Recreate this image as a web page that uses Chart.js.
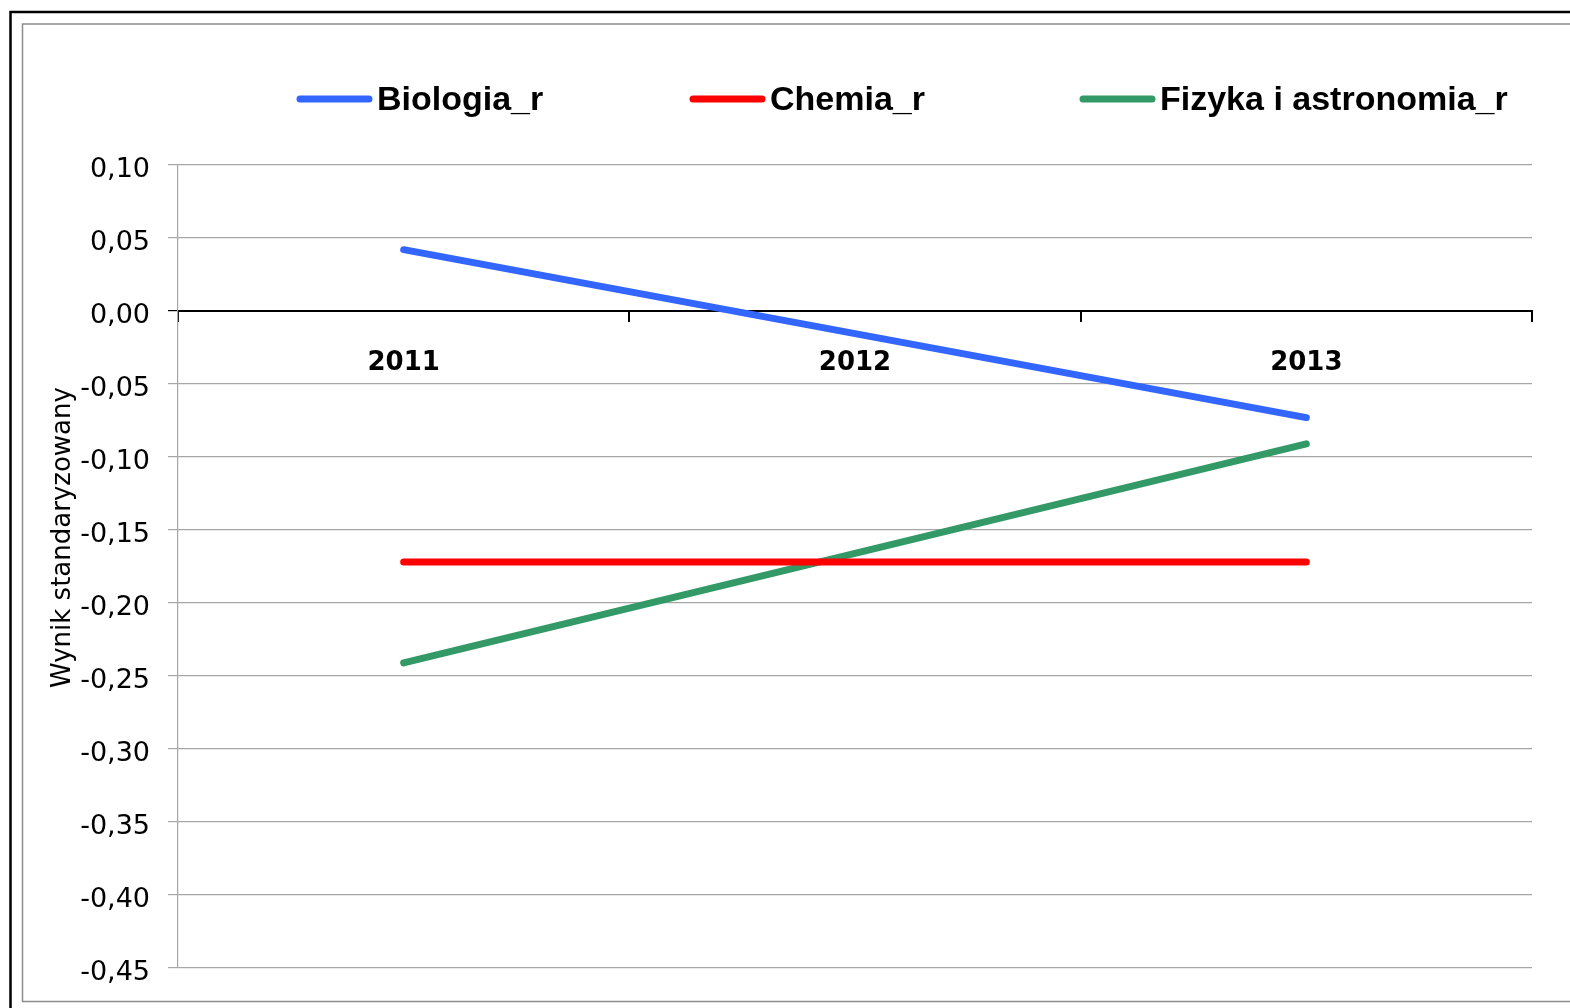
<!DOCTYPE html>
<html>
<head>
<meta charset="utf-8">
<script src="https://cdn.jsdelivr.net/npm/chart.js@4/dist/chart.umd.min.js"></script>
<style>
  html, body { margin: 0; padding: 0; background: #fff; }
  #wyniki { display: block; }
</style>
</head>
<body>
<canvas id="wyniki" width="1570" height="1008"></canvas>
<script>
// lata egzaminu
var years = ['2011', '2012', '2013'];
// wyniki standaryzowane (brak wartosci dla 2012 - linia prosta)
var biologia = [0.042, null, -0.073];
var chemia = [-0.172, null, -0.172];
var fizyka = [-0.241, null, -0.091];

var yMin = -0.45;
var yMax = 0.10;
var yStep = 0.05;

// ramka wykresu (jak w Excelu)
var framePlugin = {
    id: 'frame',
    beforeDraw: function (chart) {
        var ctx = chart.ctx;
        ctx.save();
        ctx.fillStyle = '#fff';
        ctx.fillRect(0, 0, chart.width, chart.height);
        ctx.strokeStyle = '#000';
        ctx.lineWidth = 2.5;
        ctx.strokeRect(10.5, 12, chart.width + 10, chart.height + 10);
        ctx.strokeStyle = '#8c8c8c';
        ctx.lineWidth = 1.5;
        ctx.strokeRect(22.5, 24, chart.width + 10, 977.5);
        ctx.restore();
    }
};

// legenda u gory
var legendX = [297, 690, 1080];
var legendPlugin = {
    id: 'lineLegend',
    afterDraw: function (chart) {
        var ctx = chart.ctx;
        ctx.save();
        ctx.font = 'bold 34px "Liberation Sans", Arial, sans-serif';
        ctx.textBaseline = 'alphabetic';
        chart.data.datasets.forEach(function (ds, i) {
            var x = legendX[i];
            ctx.strokeStyle = ds.borderColor;
            ctx.lineWidth = 7;
            ctx.lineCap = 'round';
            ctx.beginPath();
            ctx.moveTo(x + 3, 99);
            ctx.lineTo(x + 72, 99);
            ctx.stroke();
            ctx.fillStyle = '#000';
            ctx.fillText(ds.label, x + 80, 110);
        });
        ctx.restore();
    }
};

Chart.defaults.font.family = '"DejaVu Sans", Verdana, sans-serif';
Chart.defaults.color = '#000';

var chart = new Chart(document.getElementById('wyniki'), {
    type: 'line',
    data: {
        labels: years,
        datasets: [
            {
                label: 'Biologia_r',
                data: biologia,
                borderColor: '#3366FF',
                backgroundColor: '#3366FF',
            },
            {
                label: 'Chemia_r',
                data: chemia,
                borderColor: '#FF0000',
                backgroundColor: '#FF0000',
            },
            {
                label: 'Fizyka i astronomia_r',
                data: fizyka,
                borderColor: '#339966',
                backgroundColor: '#339966',
            }
        ]
    },
    options: {
        responsive: false,
        animation: false,
        spanGaps: true,
        elements: {
            line: { borderWidth: 7, tension: 0, borderCapStyle: 'round' },
            point: { radius: 0, hoverRadius: 0 }
        },
        layout: {
            padding: { top: 165, left: 30, right: 38, bottom: 40 }
        },
        scales: {
            x: {
                type: 'category',
                position: { y: 0 },
                offset: true,
                grid: {
                    offset: true,
                    drawOnChartArea: false,
                    drawTicks: true,
                    tickLength: 10,
                    color: '#000',
                    lineWidth: 2,
                },
                border: { color: '#000', width: 2 },
                ticks: {
                    padding: 27,
                    font: { size: 26, weight: 'bold' },
                    maxRotation: 0,
                }
            },
            y: {
                min: yMin,
                max: yMax,
                afterFit: function (scale) { scale.width = 148; },
                ticks: {
                    stepSize: yStep,
                    padding: 18,
                    labelOffset: 5,
                    font: { size: 27 },
                    callback: function (v) {
                        if (Math.abs(v) < 1e-9) v = 0;
                        return v.toFixed(2).replace('.', ',');
                    }
                },
                grid: {
                    tickLength: 10,
                    color: function (c) {
                        return (c.tick && Math.abs(c.tick.value) < 1e-9) ? '#000' : '#a6a6a6';
                    },
                    lineWidth: 1.2,
                },
                border: { color: '#a6a6a6', width: 1.2 },
                title: {
                    display: true,
                    // spacje z przodu przesuwaja napis w gore, jak w oryginale
                    text: '       Wynik standaryzowany',
                    font: { size: 26 },
                    padding: { top: 18, bottom: 0 },
                }
            }
        },
        plugins: {
            legend: { display: false },
            tooltip: { enabled: false },
            title: { display: false }
        }
    },
    plugins: [framePlugin, legendPlugin]
});
</script>
</body>
</html>
